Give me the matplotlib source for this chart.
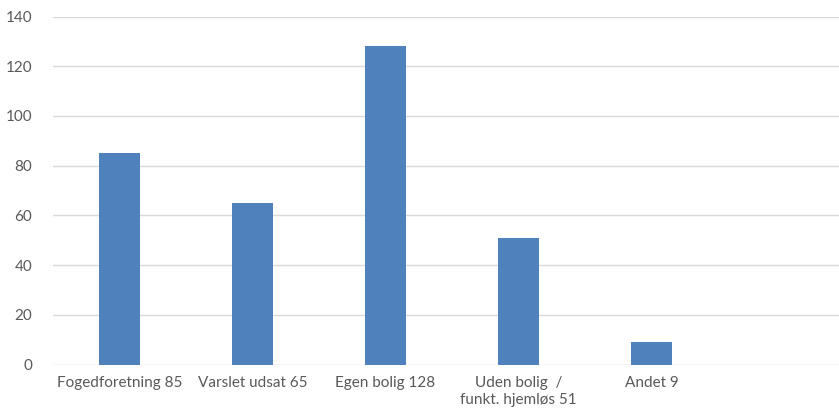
import matplotlib.pyplot as plt

# data
categories = ["Fogedforetning 85", "Varslet udsat 65", "Egen bolig 128",
              "Uden bolig  /\nfunkt. hjemløs 51", "Andet 9"]
values = [85, 65, 128, 51, 9]
yticks = [0, 20, 40, 60, 80, 100, 120, 140]

plt.rcParams['font.family'] = ['Lato', 'DejaVu Sans']

fig = plt.figure(figsize=(8.39, 4.17), dpi=100)
ax = fig.add_axes([53 / 839, 1 - 364.5 / 417, 1 - 53 / 839, (364.5 - 16.5) / 417])

x = list(range(len(categories)))
ax.bar(x, values, width=0.315, color='#4F81BD', zorder=3)

ax.set_ylim(0, 140)
ax.set_xlim(-0.5, 5.41)
ax.set_yticks(yticks)
ax.set_xticks(x)
ax.set_xticklabels(categories, fontsize=11, color='#595959', linespacing=1.3)
ax.tick_params(axis='y', labelsize=11, labelcolor='#595959', length=0, pad=15)
ax.tick_params(axis='x', length=0, pad=8)
ax.grid(axis='y', color='#D9D9D9', linewidth=1.0, zorder=0)
for s in ax.spines.values():
    s.set_visible(False)

fig.savefig('out.png', dpi=100)
